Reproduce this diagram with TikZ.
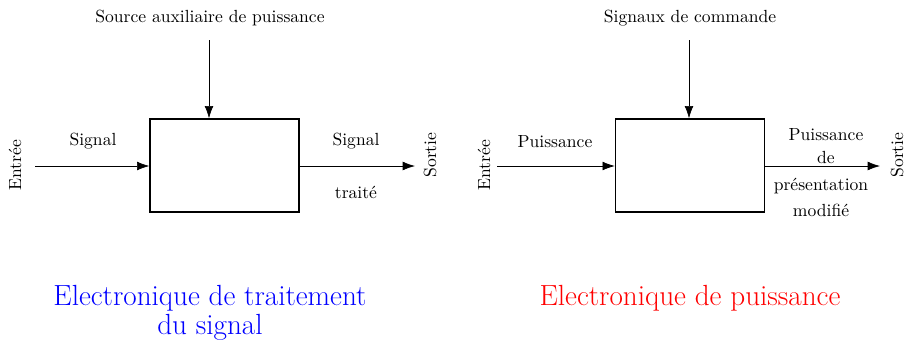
\documentclass[tikz,border=0pt]{standalone}
\usetikzlibrary{arrows.meta}
\begin{document}
\begin{tikzpicture}[x=0.02cm,y=-0.02cm,
  blk/.style={draw,thick,minimum width=2.98cm,minimum height=1.86cm,inner sep=0pt},
  lbl/.style={inner sep=1pt,font=\normalsize},
  conn/.style={-{Latex[length=7pt,width=5pt]},thin},
  title/.style={font=\fontsize{16.6}{16.5}\selectfont,align=center,inner sep=0pt}]
\useasboundingbox (0,0) rectangle (904,342);
% left diagram
\node[blk] (b1) at (224.5,165.5) {};
\node[lbl] (src1) at (210,18) {Source auxiliaire de puissance};
\coordinate (t1) at (209,40);
\draw[conn] (t1) -- (t1 |- b1.north);
\coordinate (in1) at (35,166);
\draw[conn] (in1) -- (b1.west |- in1);
\coordinate (out1) at (415,166);
\draw[conn] (b1.east |- out1) -- (out1);
\node[lbl,rotate=90] (e1) at (15,165) {Entrée};
\node[lbl] (s1) at (93,141) {Signal};
\node[lbl] (s2) at (356,141) {Signal};
\node[lbl] (tr) at (356,192) {traité};
\node[lbl,rotate=90] (so1) at (430,155) {Sortie};
\node[title,text=blue] (tt1) at (210,313) {Electronique de traitement\\du signal};
% right diagram
\node[blk] (b2) at (690,165.5) {};
\node[lbl] (src2) at (690,18) {Signaux de commande};
\coordinate (t2) at (689,40);
\draw[conn] (t2) -- (t2 |- b2.north);
\coordinate (in2) at (497,166);
\draw[conn] (in2) -- (b2.west |- in2);
\coordinate (out2) at (880,166);
\draw[conn] (b2.east |- out2) -- (out2);
\node[lbl,rotate=90] (e2) at (484,165) {Entrée};
\node[lbl] (p1) at (555,142) {Puissance};
\node[lbl] (p2) at (826,135) {Puissance};
\node[lbl] (p3) at (826,157) {de};
\node[lbl] (p4) at (821,186) {présentation};
\node[lbl] (p5) at (821,210) {modifié};
\node[lbl,rotate=90] (so2) at (897,155) {Sortie};
\node[title,text=red] (tt2) at (690,298) {Electronique de puissance};
\end{tikzpicture}
\end{document}
